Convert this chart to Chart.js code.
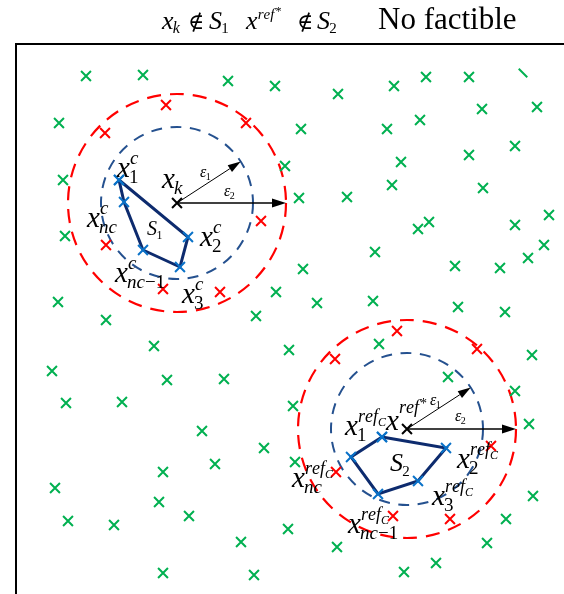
<!DOCTYPE html>
<html>
<head>
<meta charset="utf-8">
<script src="https://cdn.jsdelivr.net/npm/chart.js@4"></script>
<style>
  html, body { margin: 0; padding: 0; background: #fff; }
  canvas { display: block; }
</style>
</head>
<body>
<canvas id="c" width="564" height="594"></canvas>
<script>
// Sample points spread over the search space (x, y)
const samplePts = [
  [70,518],[127,519],[212,513],[259,508],[322,500],[378,508],[410,517],[453,517],
  [43,471],[285,465],[371,465],[404,474],[466,485],[521,487],[269,428],[385,432],
  [453,439],[499,448],[47,414],[283,396],[331,397],[376,409],[467,406],[402,365],
  [413,372],[499,369],[533,379],[528,349],[512,336],[359,342],[287,325],[439,328],
  [484,326],[301,291],[357,293],[442,287],[489,282],[49,358],[42,292],[90,274],
  [138,248],[240,278],[260,302],[273,244],[363,250],[36,223],[151,214],[208,215],
  [50,191],[106,192],[277,188],[186,163],[248,146],[432,217],[499,203],[513,170],
  [516,239],[199,130],[147,122],[279,132],[39,106],[143,92],[173,78],[52,73],
  [98,69],[272,65],[225,52],[321,47],[147,21],[238,19],[388,22],[420,31],
  [471,51],[490,75],[517,98]
];
const clippedPts = [[507,521]];

// Points lying in the ring between the two radii
const ringPts = [
  [150,489],[89,461],[230,471],[245,373],[90,349],[147,305],[204,302],
  [381,263],[319,235],[461,245],[475,148],[320,122],[377,78],[434,75]
];

// Vertices of the constraint regions S1 and S2
const regionS1 = [[103,414],[172,357],[164,327],[127,344],[108,392]];
const regionS2 = [[366,157],[430,146],[402,113],[362,100],[335,137]];

// x_k and x^{ref*}
const centers = [[161,391],[391,165]];

// Radii ε1, ε2 and the direction of the ε1 arrow (degrees)
const epsRadii = [76, 109];
const eps1Angle = 33;

const SERIF = "'Liberation Serif','Times New Roman','DejaVu Serif',serif";
const toXY = a => a.map(p => ({ x: p[0], y: p[1] }));
const closed = a => toXY(a.concat([a[0]]));

function setFont(ctx, size, italic) {
  ctx.font = (italic ? 'italic ' : '') + size + 'px ' + SERIF;
}
// letters italic, digits and symbols upright
function drawRun(ctx, text, x, y, size) {
  let cx = x;
  for (const ch of text) {
    setFont(ctx, size, /[A-Za-z\u03b5]/.test(ch));
    ctx.fillText(ch, cx, y);
    cx += ctx.measureText(ch).width;
  }
  return cx - x;
}
// script text with its own nested sub (a_b) or sup (a^b)
function drawScript(ctx, txt, x, y, size) {
  let m = txt.match(/^(.*)_(.*)$/);
  if (m) {
    const w = drawRun(ctx, m[1], x, y, size);
    return w + drawRun(ctx, m[2], x + w, y + size * 0.25, Math.round(size * 0.67));
  }
  m = txt.match(/^(.*)\^(.*)$/);
  if (m) {
    const w = drawRun(ctx, m[1], x, y, size);
    return w + drawRun(ctx, m[2], x + w + 1, y - size * 0.3, Math.round(size * 0.8));
  }
  return drawRun(ctx, txt, x, y, size);
}
function drawSymbol(ctx, lab, x, y) {
  const size = lab.size || 29;
  const ss = lab.script || 19;
  ctx.fillStyle = '#000';
  ctx.textBaseline = 'alphabetic';
  ctx.textAlign = 'left';
  const w = drawRun(ctx, lab.base, x, y, size);
  const sx = x + w - size * 0.03;
  if (lab.sup) drawScript(ctx, lab.sup, sx + 1, y - (lab.raise || size * 0.46), lab.supSize || ss);
  if (lab.sub) drawScript(ctx, lab.sub, sx, y + (lab.drop || size * 0.2), ss);
}

// Annotation text anchored in data coordinates (left, baseline)
const labels = [
  { at:[101,417], base:'x', sub:'1', sup:'c' },
  { at:[146,406], base:'x', sub:'k' },
  { at:[71,367],  base:'x', sub:'nc', sup:'c' },
  { at:[184,348], base:'x', sub:'2', sup:'c' },
  { at:[99,312],  base:'x', sub:'nc\u22121', sup:'c' },
  { at:[166,291], base:'x', sub:'3', sup:'c' },
  { at:[131,359], base:'S', sub:'1', size:20, script:12 },
  { at:[184,417], base:'\u03b5', sub:'1', size:16, script:10 },
  { at:[208,398], base:'\u03b5', sub:'2', size:16, script:10 },
  { at:[329,159], base:'x', sub:'1', sup:'ref_C', supSize:18 },
  { at:[370,164], base:'x', sup:'ref^*', raise:17, supSize:18 },
  { at:[414,189], base:'\u03b5', sub:'1', size:16, script:10 },
  { at:[439,173], base:'\u03b5', sub:'2', size:16, script:10 },
  { at:[374,123], base:'S', sub:'2', size:26, script:15 },
  { at:[441,126], base:'x', sub:'2', sup:'ref_C', supSize:18 },
  { at:[416,89],  base:'x', sub:'3', sup:'ref_C', supSize:18 },
  { at:[276,107], base:'x', sub:'nc', sup:'ref_C', supSize:18 },
  { at:[332,61],  base:'x', sub:'nc\u22121', sup:'ref_C', supSize:18 }
];

function arrow(ctx, x0, y0, x1, y1, lw, hl, hw) {
  const a = Math.atan2(y1 - y0, x1 - x0);
  const bx = x1 - Math.cos(a) * hl, by = y1 - Math.sin(a) * hl;
  ctx.save();
  ctx.strokeStyle = '#000'; ctx.fillStyle = '#000'; ctx.lineWidth = lw;
  ctx.beginPath(); ctx.moveTo(x0, y0); ctx.lineTo(bx, by); ctx.stroke();
  ctx.beginPath();
  ctx.moveTo(x1, y1);
  ctx.lineTo(bx + Math.sin(a) * hw / 2, by - Math.cos(a) * hw / 2);
  ctx.lineTo(bx - Math.sin(a) * hw / 2, by + Math.cos(a) * hw / 2);
  ctx.closePath(); ctx.fill();
  ctx.restore();
}

const neighbourhoods = {
  id: 'neighbourhoods',
  beforeDatasetsDraw(chart) {
    const { ctx, scales: { x, y } } = chart;
    const styles = [
      { color: '#25518F', width: 2, dash: [11, 8.5] },
      { color: '#FF0000', width: 2.2, dash: [14, 9] }
    ];
    centers.forEach(c => {
      const cx = x.getPixelForValue(c[0]), cy = y.getPixelForValue(c[1]);
      epsRadii.forEach((r, i) => {
        const rp = x.getPixelForValue(c[0] + r) - cx;
        ctx.save();
        ctx.strokeStyle = styles[i].color;
        ctx.lineWidth = styles[i].width;
        ctx.setLineDash(styles[i].dash);
        ctx.beginPath(); ctx.arc(cx, cy, rp, 0, Math.PI * 2); ctx.stroke();
        ctx.restore();
      });
    });
  },
  afterDatasetsDraw(chart) {
    const { ctx, scales: { x, y } } = chart;
    const t = eps1Angle * Math.PI / 180;
    centers.forEach(c => {
      const cx = x.getPixelForValue(c[0]), cy = y.getPixelForValue(c[1]);
      arrow(ctx, cx, cy,
        x.getPixelForValue(c[0] + epsRadii[0] * Math.cos(t)),
        y.getPixelForValue(c[1] + epsRadii[0] * Math.sin(t)), 1, 13, 8);
      arrow(ctx, cx, cy, x.getPixelForValue(c[0] + epsRadii[1]), cy, 1.4, 14, 9);
    });
    labels.forEach(l => drawSymbol(ctx, l, x.getPixelForValue(l.at[0]), y.getPixelForValue(l.at[1])));
  },
  afterDraw(chart) {
    const ctx = chart.ctx;
    ctx.save();
    ctx.fillStyle = '#000';
    ctx.textBaseline = 'alphabetic';
    drawSymbol(ctx, { base:'x', sub:'k', size:26, script:16, drop:4 }, 162, 29);
    setFont(ctx, 22, false); ctx.fillText('\u2209', 188, 29);
    drawSymbol(ctx, { base:'S', sub:'1', size:26, script:15, drop:4 }, 209, 29);
    drawSymbol(ctx, { base:'x', sup:'ref^*', size:26, script:15, raise:10 }, 246, 29);
    setFont(ctx, 22, false); ctx.fillText('\u2209', 297, 29);
    drawSymbol(ctx, { base:'S', sub:'2', size:26, script:15, drop:4 }, 317, 29);
    setFont(ctx, 31, false); ctx.fillText('No factible', 378, 29);
    ctx.restore();
  }
};

const markerBase = { showLine: false, pointStyle: 'crossRot', pointRadius: 7, pointHoverRadius: 7, pointBorderWidth: 2 };
const polyStyle = {
  showLine: true, borderColor: '#0D2B6E', borderWidth: 3, tension: 0, fill: false,
  pointStyle: 'crossRot', pointRadius: 7, pointBorderWidth: 2, pointBorderColor: '#0A72C8'
};

new Chart(document.getElementById('c'), {
  type: 'scatter',
  data: {
    datasets: [
      { ...markerBase, data: toXY(centers), pointBorderColor: '#000', borderColor: '#000' },
      { ...polyStyle, data: closed(regionS1) },
      { ...polyStyle, data: closed(regionS2) },
      { ...markerBase, data: toXY(ringPts), pointBorderColor: '#FF0000', borderColor: '#FF0000' },
      { ...markerBase, data: toXY(samplePts), pointBorderColor: '#00B050', borderColor: '#00B050' },
      { ...markerBase, data: toXY(clippedPts), pointStyle: 'line', rotation: 45, pointRadius: 6,
        pointBorderColor: '#00B050', borderColor: '#00B050' }
    ]
  },
  options: {
    responsive: false,
    animation: false,
    layout: { autoPadding: false, padding: { left: 16, top: 44, right: 0, bottom: 0 } },
    plugins: { legend: { display: false }, tooltip: { enabled: false }, title: { display: false } },
    scales: {
      x: { type: 'linear', position: 'top', min: 0, max: 548,
           ticks: { display: false }, grid: { display: false, drawTicks: false },
           border: { display: true, color: '#000', width: 2 } },
      y: { type: 'linear', position: 'left', min: 0, max: 550,
           ticks: { display: false }, grid: { display: false, drawTicks: false },
           border: { display: true, color: '#000', width: 2 } }
    }
  },
  plugins: [neighbourhoods]
});
</script>
</body>
</html>
